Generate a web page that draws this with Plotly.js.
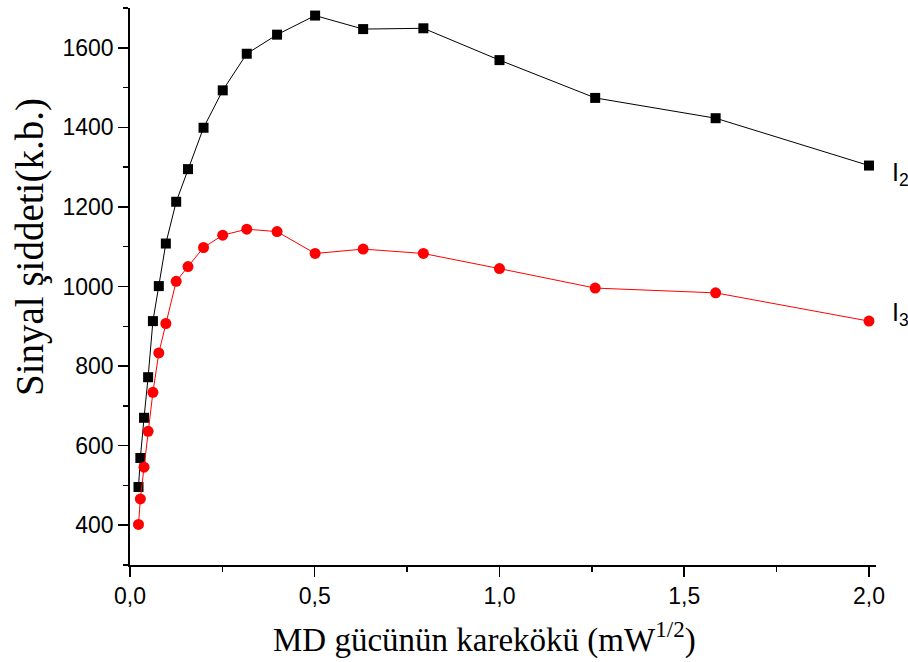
<!DOCTYPE html>
<html>
<head>
<meta charset="utf-8">
<script src="https://cdn.plot.ly/plotly-3.0.1.min.js"></script>
<style>html,body{margin:0;padding:0;background:#fff;}#chart{width:908px;height:662px;}</style>
</head>
<body>
<div id="chart"></div>
<script>
// sqrt of MD power (mW^1/2)
const xValues = [0.023, 0.028, 0.038, 0.049, 0.062, 0.078, 0.097, 0.125, 0.157, 0.199, 0.251, 0.316, 0.398, 0.501, 0.631, 0.794, 1.0, 1.259, 1.585, 2.0];
// I2 signal intensity
const i2Values = [496, 569, 670, 772, 913, 1001, 1108, 1213, 1295, 1399, 1493, 1585, 1633, 1681, 1647, 1649, 1569, 1474, 1423, 1304];
// I3 signal intensity
const i3Values = [402, 466, 546, 636, 734, 833, 907, 1013, 1050, 1098, 1129, 1144, 1138, 1083, 1094, 1083, 1045, 996, 984, 913];
const seriesNames = ["I2", "I3"];
const xTickVals = [0, 0.5, 1.0, 1.5, 2.0];
const yTickVals = [400, 600, 800, 1000, 1200, 1400, 1600];
const xTitle = 'MD gücünün karekökü (mW<sup>1/2</sup>)';
const yTitle = 'Sinyal şiddeti(k.b.)';

const sansFont = 'Arial, "Liberation Sans", sans-serif';
const serifFont = '"Times New Roman", "Liberation Serif", serif';

const traces = [
  {x: xValues, y: i2Values, name: seriesNames[0], type: 'scatter', mode: 'lines+markers',
   line: {color: '#000000', width: 1}, marker: {symbol: 'square', size: 10, color: '#000000'}, cliponaxis: false},
  {x: xValues, y: i3Values, name: seriesNames[1], type: 'scatter', mode: 'lines+markers',
   line: {color: '#ff0000', width: 1}, marker: {symbol: 'circle', size: 11, color: '#ff0000'}, cliponaxis: false}
];

const layout = {
  width: 908, height: 662,
  margin: {l: 130, r: 32, t: 8, b: 97},
  paper_bgcolor: '#ffffff', plot_bgcolor: '#ffffff',
  separators: ',.',
  showlegend: false,
  xaxis: {
    range: [0, 2.019], showgrid: false, zeroline: false,
    showline: true, linecolor: '#000', linewidth: 1.8,
    ticks: 'outside', ticklen: 10, tickwidth: 1.5, tickcolor: '#000',
    tickvals: xTickVals, tickformat: '.1f',
    minor: {ticks: 'outside', ticklen: 5, tickwidth: 1.5, tickcolor: '#000', dtick: 0.25, showgrid: false},
    tickfont: {family: sansFont, size: 23, color: '#000'},
    automargin: false
  },
  yaxis: {
    range: [300, 1700], showgrid: false, zeroline: false,
    showline: true, linecolor: '#000', linewidth: 1.8,
    ticks: 'outside', ticklen: 10, tickwidth: 1.5, tickcolor: '#000',
    tickvals: yTickVals, tickformat: 'd',
    minor: {ticks: 'outside', ticklen: 5, tickwidth: 1.5, tickcolor: '#000', dtick: 100, showgrid: false},
    tickfont: {family: sansFont, size: 23, color: '#000'},
    automargin: false
  },
  annotations: [
    {xref: 'paper', yref: 'paper', x: (484 - 130) / 746, y: -(637 - 565) / 557, xanchor: 'center', yanchor: 'middle',
     text: xTitle, showarrow: false, font: {family: serifFont, size: 33, color: '#000'}},
    {xref: 'paper', yref: 'paper', x: -(130 - 30) / 746, y: (565 - 247) / 557, xanchor: 'center', yanchor: 'middle',
     textangle: -90, text: yTitle, showarrow: false, font: {family: serifFont, size: 39, color: '#000'}},
    {xref: 'paper', yref: 'y', x: (890 - 130) / 746, y: 1284, xanchor: 'left', yanchor: 'middle',
     text: 'I<sub>2</sub>', showarrow: false, font: {family: sansFont, size: 25, color: '#000'}},
    {xref: 'paper', yref: 'y', x: (890 - 130) / 746, y: 932, xanchor: 'left', yanchor: 'middle',
     text: 'I<sub>3</sub>', showarrow: false, font: {family: sansFont, size: 25, color: '#000'}}
  ]
};

Plotly.newPlot('chart', traces, layout, {displayModeBar: false, staticPlot: true});
</script>
</body>
</html>
